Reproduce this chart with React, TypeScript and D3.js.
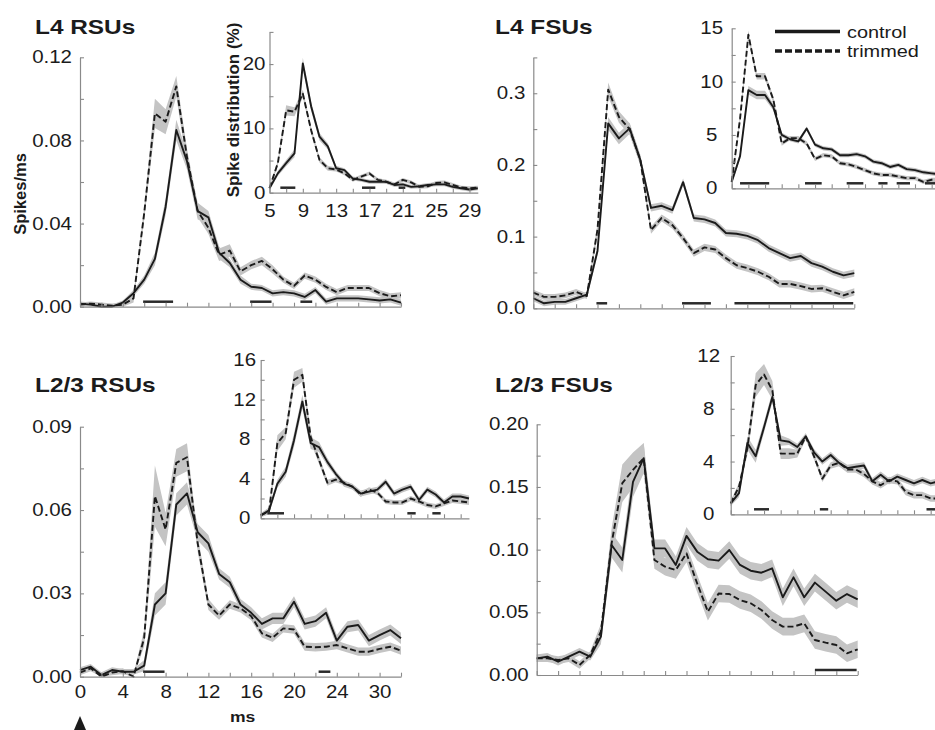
import React, { useEffect, useRef } from 'react'
import * as d3 from 'd3'

// time bins (ms after whisker deflection)
const mainMs = [0, 1, 2, 3, 4, 5, 6, 7, 8, 9, 10, 11, 12, 13, 14, 15, 16, 17, 18, 19, 20, 21, 22, 23, 24, 25, 26, 27, 28, 29, 30]
const insetMs = [5, 6, 7, 8, 9, 10, 11, 12, 13, 14, 15, 16, 17, 18, 19, 20, 21, 22, 23, 24, 25, 26, 27, 28, 29, 30]

const mainXTicks = [0, 2, 4, 6, 8, 10, 12, 14, 16, 18, 20, 22, 24, 26, 28, 30]
const mainXLabelAt = [0, 4, 8, 12, 16, 20, 24, 28]
const mainXLabels = ['0', '4', '8', '12', '16', '20', '24', '30']
const insetXTicks = [5, 7, 9, 11, 13, 15, 17, 19, 21, 23, 25, 27, 29]
const insetXLabels = [5, 9, 13, 17, 21, 25, 29]

// L4 RSUs, spikes/ms
const l4rsCtrl = [0.0015, 0.001, 0.0, 0.0, 0.002, 0.0065, 0.013, 0.023, 0.048, 0.085, 0.07, 0.046, 0.043, 0.026, 0.021, 0.013, 0.0096, 0.009, 0.0064, 0.007, 0.0064, 0.0047, 0.008, 0.0024, 0.004, 0.004, 0.004, 0.0035, 0.003, 0.0035, 0.002]
const l4rsCtrlSem = [0.001, 0.001, 0.001, 0.001, 0.001, 0.0015, 0.002, 0.003, 0.004, 0.005, 0.004, 0.004, 0.003, 0.003, 0.002, 0.002, 0.0015, 0.0015, 0.0015, 0.0015, 0.0015, 0.0015, 0.0015, 0.0015, 0.0015, 0.0015, 0.0015, 0.0015, 0.0015, 0.0015, 0.0015]
const l4rsTrim = [0.001, 0.0015, 0.001, 0.0005, 0.001, 0.004, 0.045, 0.093, 0.089, 0.106, 0.072, 0.046, 0.038, 0.025, 0.027, 0.017, 0.02, 0.022, 0.018, 0.013, 0.01, 0.015, 0.013, 0.0095, 0.007, 0.009, 0.009, 0.009, 0.0065, 0.005, 0.0055]
const l4rsTrimSem = [0.001, 0.001, 0.001, 0.001, 0.001, 0.002, 0.003, 0.007, 0.006, 0.005, 0.004, 0.003, 0.003, 0.003, 0.003, 0.002, 0.002, 0.002, 0.002, 0.0015, 0.0015, 0.0015, 0.0015, 0.0015, 0.0015, 0.0015, 0.0015, 0.0015, 0.0015, 0.0015, 0.0015]
const l4rsBars = [[5.9, 8.7], [15.9, 17.9], [20.6, 21.7]]
// L4 RSUs, spike distribution (%)
const l4rsInCtrl = [0.7, 3.0, 4.6, 6.1, 20.1, 13.4, 8.7, 7.2, 3.8, 3.5, 2.2, 2.0, 1.7, 1.7, 1.7, 1.2, 1.3, 0.9, 1.0, 1.2, 1.3, 1.3, 0.9, 0.7, 0.5, 0.7]
const l4rsInCtrlSem = [0.3, 0.4, 0.5, 0.6, 0.9, 0.7, 0.6, 0.5, 0.4, 0.3, 0.3, 0.3, 0.3, 0.3, 0.3, 0.3, 0.3, 0.3, 0.3, 0.3, 0.3, 0.3, 0.3, 0.3, 0.3, 0.3]
const l4rsInTrim = [0.7, 4.6, 12.8, 12.6, 15.4, 9.7, 5.1, 3.8, 3.6, 3.0, 2.0, 2.5, 3.0, 2.0, 1.7, 1.3, 2.0, 1.6, 0.9, 1.0, 1.5, 1.6, 1.2, 0.8, 0.7, 0.8]
const l4rsInTrimSem = [0.3, 0.4, 0.8, 0.7, 0.6, 0.5, 0.4, 0.4, 0.3, 0.3, 0.3, 0.3, 0.3, 0.3, 0.3, 0.3, 0.3, 0.3, 0.3, 0.3, 0.3, 0.3, 0.3, 0.3, 0.3, 0.3]
const l4rsInBars = [[6.3, 8.1], [16.1, 17.7], [20.5, 21.3]]

// L4 FSUs
const l4fsCtrl = [0.014, 0.007, 0.009, 0.009, 0.014, 0.019, 0.08, 0.258, 0.237, 0.251, 0.207, 0.14, 0.143, 0.137, 0.176, 0.126, 0.124, 0.119, 0.105, 0.104, 0.101, 0.095, 0.084, 0.077, 0.07, 0.073, 0.063, 0.058, 0.051, 0.046, 0.049]
const l4fsCtrlSem = [0.004, 0.004, 0.004, 0.004, 0.004, 0.004, 0.006, 0.009, 0.008, 0.008, 0.007, 0.005, 0.005, 0.005, 0.005, 0.005, 0.005, 0.005, 0.005, 0.005, 0.005, 0.005, 0.005, 0.005, 0.005, 0.005, 0.005, 0.005, 0.005, 0.005, 0.005]
const l4fsTrim = [0.022, 0.016, 0.016, 0.018, 0.023, 0.017, 0.11, 0.305, 0.267, 0.25, 0.207, 0.109, 0.126, 0.116, 0.098, 0.077, 0.085, 0.082, 0.07, 0.06, 0.056, 0.051, 0.044, 0.034, 0.034, 0.031, 0.027, 0.028, 0.023, 0.018, 0.023]
const l4fsTrimSem = [0.004, 0.004, 0.004, 0.004, 0.004, 0.004, 0.008, 0.01, 0.008, 0.008, 0.007, 0.005, 0.005, 0.005, 0.005, 0.005, 0.005, 0.005, 0.005, 0.005, 0.005, 0.005, 0.005, 0.005, 0.005, 0.005, 0.005, 0.005, 0.005, 0.005, 0.005]
const l4fsBars = [[5.9, 6.9], [13.9, 16.6], [18.8, 29.9]]
const l4fsInCtrl = [0.6, 3.0, 9.2, 8.75, 8.75, 7.6, 5.0, 4.6, 4.4, 5.6, 4.1, 3.75, 3.65, 3.1, 3.1, 3.2, 3.0, 2.5, 2.35, 2.0, 2.2, 1.8, 1.7, 1.5, 1.4, 1.3]
const l4fsInCtrlSem = [0.2, 0.3, 0.4, 0.4, 0.4, 0.3, 0.2, 0.2, 0.2, 0.2, 0.2, 0.2, 0.2, 0.2, 0.2, 0.2, 0.2, 0.2, 0.2, 0.2, 0.2, 0.2, 0.2, 0.2, 0.2, 0.2]
const l4fsInTrim = [0.6, 6.5, 14.4, 10.5, 10.5, 8.3, 4.2, 4.7, 4.7, 4.2, 2.75, 3.1, 3.0, 2.35, 2.25, 2.0, 1.7, 1.4, 1.25, 1.25, 1.1, 0.95, 0.95, 0.6, 0.8, 0.8]
const l4fsInTrimSem = [0.2, 0.3, 0.4, 0.3, 0.3, 0.3, 0.2, 0.2, 0.2, 0.2, 0.2, 0.2, 0.2, 0.2, 0.2, 0.2, 0.2, 0.2, 0.2, 0.2, 0.2, 0.2, 0.2, 0.2, 0.2, 0.2]
const l4fsInBars = [[6.0, 9.5], [13.8, 15.8], [18.8, 20.8], [22.6, 23.7], [24.8, 26.4], [28.2, 29.6]]

// L2/3 RSUs
const l23rsCtrl = [0.0024, 0.0036, 0.0006, 0.0024, 0.0018, 0.0018, 0.004, 0.026, 0.03, 0.062, 0.066, 0.052, 0.048, 0.037, 0.034, 0.026, 0.023, 0.019, 0.021, 0.021, 0.027, 0.019, 0.02, 0.023, 0.013, 0.018, 0.0186, 0.013, 0.015, 0.0168, 0.0138]
const l23rsCtrlSem = [0.001, 0.001, 0.001, 0.001, 0.001, 0.001, 0.002, 0.004, 0.004, 0.004, 0.004, 0.003, 0.003, 0.002, 0.002, 0.002, 0.002, 0.002, 0.002, 0.002, 0.002, 0.002, 0.002, 0.002, 0.002, 0.002, 0.002, 0.002, 0.002, 0.002, 0.002]
const l23rsTrim = [0.0015, 0.003, 0.0, 0.0015, 0.002, 0.0, 0.014, 0.065, 0.053, 0.077, 0.079, 0.048, 0.026, 0.022, 0.026, 0.0246, 0.0218, 0.0156, 0.014, 0.0174, 0.017, 0.0108, 0.0106, 0.0108, 0.0114, 0.0102, 0.009, 0.009, 0.01, 0.0108, 0.0094]
const l23rsTrimSem = [0.001, 0.001, 0.001, 0.001, 0.001, 0.001, 0.003, 0.011, 0.006, 0.005, 0.005, 0.003, 0.002, 0.0015, 0.0015, 0.0015, 0.0015, 0.0015, 0.0015, 0.0015, 0.0015, 0.0015, 0.0015, 0.0015, 0.0015, 0.0015, 0.0015, 0.0015, 0.0015, 0.0015, 0.0015]
const l23rsBars = [[5.9, 7.9], [22.3, 23.4]]
const l23rsInCtrl = [0.3, 0.8, 3.5, 4.7, 7.9, 11.8, 7.6, 7.2, 5.7, 4.5, 3.5, 3.2, 2.5, 2.7, 2.9, 3.7, 2.5, 2.9, 3.2, 1.85, 2.9, 2.4, 1.6, 2.2, 2.2, 2.0]
const l23rsInCtrlSem = [0.2, 0.3, 0.4, 0.5, 0.7, 0.7, 0.6, 0.5, 0.4, 0.3, 0.3, 0.3, 0.3, 0.3, 0.3, 0.3, 0.3, 0.3, 0.3, 0.3, 0.3, 0.3, 0.3, 0.3, 0.3, 0.3]
const l23rsInTrim = [0.3, 0.7, 7.6, 8.6, 14.0, 14.5, 8.2, 5.9, 3.6, 3.9, 3.6, 3.2, 2.4, 2.9, 2.6, 1.7, 1.6, 1.6, 2.0, 1.7, 1.35, 1.2, 1.5, 1.8, 1.7, 1.6]
const l23rsInTrimSem = [0.2, 0.3, 0.8, 0.6, 0.8, 0.7, 0.5, 0.4, 0.3, 0.25, 0.25, 0.25, 0.25, 0.25, 0.25, 0.25, 0.25, 0.25, 0.25, 0.25, 0.25, 0.25, 0.25, 0.25, 0.25, 0.25]
const l23rsInBars = [[5.8, 7.8], [22.6, 23.6], [25.6, 26.6]]

// L2/3 FSUs
const l23fsCtrl = [0.0133, 0.0146, 0.0106, 0.0146, 0.0186, 0.0146, 0.0306, 0.1037, 0.0918, 0.154, 0.173, 0.101, 0.101, 0.0878, 0.111, 0.0984, 0.0923, 0.0912, 0.0997, 0.0878, 0.0832, 0.0816, 0.0851, 0.062, 0.0779, 0.062, 0.0737, 0.0665, 0.0593, 0.0646, 0.0604]
const l23fsCtrlSem = [0.003, 0.003, 0.003, 0.003, 0.003, 0.003, 0.006, 0.01, 0.01, 0.012, 0.012, 0.007, 0.007, 0.007, 0.007, 0.007, 0.007, 0.007, 0.007, 0.007, 0.007, 0.007, 0.007, 0.007, 0.007, 0.007, 0.007, 0.007, 0.007, 0.007, 0.007]
const l23fsTrim = [0.0133, 0.0133, 0.012, 0.0133, 0.008, 0.016, 0.0346, 0.105, 0.153, 0.1636, 0.173, 0.0918, 0.0864, 0.0838, 0.097, 0.073, 0.0505, 0.065, 0.0646, 0.0598, 0.0572, 0.0519, 0.0439, 0.0386, 0.0386, 0.0412, 0.0279, 0.0258, 0.0239, 0.0173, 0.0205]
const l23fsTrimSem = [0.003, 0.003, 0.003, 0.003, 0.003, 0.003, 0.006, 0.012, 0.015, 0.014, 0.012, 0.007, 0.007, 0.007, 0.007, 0.007, 0.007, 0.007, 0.007, 0.007, 0.007, 0.007, 0.007, 0.007, 0.007, 0.007, 0.007, 0.007, 0.007, 0.007, 0.007]
const l23fsBars = [[26.0, 29.9]]
const l23fsInCtrl = [0.83, 1.6, 5.4, 4.4, 6.6, 8.9, 5.6, 5.5, 5.1, 5.9, 4.7, 4.0, 4.5, 3.9, 3.5, 3.6, 3.7, 2.5, 3.0, 2.5, 2.85, 2.6, 2.35, 2.6, 2.35, 2.5]
const l23fsInCtrlSem = [0.2, 0.3, 0.5, 0.5, 0.4, 0.4, 0.4, 0.25, 0.25, 0.25, 0.25, 0.25, 0.25, 0.25, 0.25, 0.25, 0.25, 0.25, 0.25, 0.25, 0.25, 0.25, 0.25, 0.25, 0.25, 0.25]
const l23fsInTrim = [0.83, 2.1, 5.0, 9.8, 10.6, 9.4, 4.6, 4.6, 4.6, 5.9, 4.4, 2.7, 3.7, 3.9, 3.4, 3.4, 3.05, 2.5, 2.2, 2.6, 2.5, 1.7, 1.45, 1.45, 1.2, 1.2]
const l23fsInTrimSem = [0.2, 0.3, 0.5, 0.9, 0.8, 0.7, 0.4, 0.4, 0.3, 0.25, 0.25, 0.25, 0.25, 0.25, 0.25, 0.25, 0.25, 0.25, 0.25, 0.25, 0.25, 0.25, 0.25, 0.25, 0.25, 0.25]
const l23fsInBars = [[7.8, 9.6], [15.7, 16.7], [28.5, 29.6]]

const FONT = "'Liberation Sans', Arial, Helvetica, sans-serif"
const INK = '#1b1b1b'
const AXIS = '#8a8a8a'
const BAND = '#c4c4c4'
const SX = 1.17 // the figure is slightly stretched horizontally

const panels = [
  {
    title: 'L4 RSUs', titleX: 35, titleY: 34,
    main: { left: 80, bottom: 306.7, top: 57.3, yMax: 0.12, yMajor: [0, 0.04, 0.08, 0.12], yStep: 0.02, fmt: '.2f', ctrl: l4rsCtrl, ctrlSem: l4rsCtrlSem, trim: l4rsTrim, trimSem: l4rsTrimSem, bars: l4rsBars },
    inset: { left: 269.5, bottom: 192.7, top: 31.9, yMax: 25, yMajor: [0, 10, 20], yStep: 5, anchor: 'end', labelX: -4, xLabels: true, ctrl: l4rsInCtrl, ctrlSem: l4rsInCtrlSem, trim: l4rsInTrim, trimSem: l4rsInTrimSem, bars: l4rsInBars },
  },
  {
    title: 'L4 FSUs', titleX: 495, titleY: 34,
    main: { left: 533.3, bottom: 308.3, top: 57.4, yMax: 0.35, yMajor: [0, 0.1, 0.2, 0.3], yStep: 0.05, fmt: '.1f', ctrl: l4fsCtrl, ctrlSem: l4fsCtrlSem, trim: l4fsTrim, trimSem: l4fsTrimSem, bars: l4fsBars },
    inset: { left: 731.7, bottom: 188.3, top: 28.3, yMax: 15, yMajor: [0, 5, 10, 15], yStep: 2.5, anchor: 'middle', labelX: -20, ctrl: l4fsInCtrl, ctrlSem: l4fsInCtrlSem, trim: l4fsInTrim, trimSem: l4fsInTrimSem, bars: l4fsInBars },
  },
  {
    title: 'L2/3 RSUs', titleX: 35, titleY: 392,
    main: { left: 80, bottom: 676.7, top: 426.7, yMax: 0.09, yMajor: [0, 0.03, 0.06, 0.09], yStep: 0.015, fmt: '.2f', xLabels: true, ctrl: l23rsCtrl, ctrlSem: l23rsCtrlSem, trim: l23rsTrim, trimSem: l23rsTrimSem, bars: l23rsBars },
    inset: { left: 260.7, bottom: 518.3, top: 360, yMax: 16, yMajor: [0, 4, 8, 12, 16], yStep: 2, anchor: 'middle', labelX: -16, ctrl: l23rsInCtrl, ctrlSem: l23rsInCtrlSem, trim: l23rsInTrim, trimSem: l23rsInTrimSem, bars: l23rsInBars },
  },
  {
    title: 'L2/3 FSUs', titleX: 495, titleY: 392,
    main: { left: 536.7, bottom: 675, top: 424.3, yMax: 0.2, yMajor: [0, 0.05, 0.1, 0.15, 0.2], yStep: 0.025, fmt: '.2f', ctrl: l23fsCtrl, ctrlSem: l23fsCtrlSem, trim: l23fsTrim, trimSem: l23fsTrimSem, bars: l23fsBars },
    inset: { left: 730.7, bottom: 514.3, top: 356, yMax: 12, yMajor: [0, 4, 8, 12], yStep: 2, anchor: 'middle', labelX: -22, ctrl: l23fsInCtrl, ctrlSem: l23fsInCtrlSem, trim: l23fsInTrim, trimSem: l23fsInTrimSem, bars: l23fsInBars },
  },
]

const drawPlot = (svg, c, isInset) => {
  const ms = isInset ? insetMs : mainMs
  const x = d3
    .scaleLinear()
    .domain(isInset ? [5, 30] : [0, 30])
    .range([c.left, c.left + (isInset ? 208.3 : 321)])
  const y = d3.scaleLinear().domain([0, c.yMax]).range([c.bottom, c.top])
  const g = svg.append('g')

  const series = [
    { v: c.ctrl, e: c.ctrlSem, dash: null },
    { v: c.trim, e: c.trimSem, dash: '6,3' },
  ]

  // SEM bands
  series.forEach((s) => {
    const area = d3
      .area()
      .x((d, i) => x(ms[i]))
      .y0((d, i) => y(Math.max(0, d - s.e[i])))
      .y1((d, i) => y(Math.min(c.yMax, d + s.e[i])))
    g.append('path').attr('d', area(s.v)).attr('fill', BAND)
  })

  // significance bars
  c.bars.forEach(([a, b]) => {
    g.append('line')
      .attr('x1', x(a))
      .attr('x2', x(b))
      .attr('y1', c.bottom - 5)
      .attr('y2', c.bottom - 5)
      .attr('stroke', '#2a2a2a')
      .attr('stroke-width', 2.5)
  })

  // mean lines
  series.forEach((s) => {
    const line = d3
      .line()
      .x((d, i) => x(ms[i]))
      .y((d) => y(d))
    g.append('path')
      .attr('d', line(s.v))
      .attr('fill', 'none')
      .attr('stroke', INK)
      .attr('stroke-width', 1.9)
      .attr('stroke-linejoin', 'round')
      .attr('stroke-dasharray', s.dash)
  })

  // y axis
  const yTicks = d3.range(0, c.yMax + 1e-9, c.yStep)
  const isMajor = (t) => c.yMajor.some((m) => Math.abs(m - t) < 1e-9)
  const yAxis = g
    .append('g')
    .attr('transform', `translate(${c.left},0)`)
    .call(
      d3
        .axisLeft(y)
        .tickValues(yTicks)
        .tickSize(-4)
        .tickSizeOuter(0)
        .tickPadding(8)
        .tickFormat((t) => (isMajor(t) ? (isInset ? d3.format('d')(t) : d3.format(c.fmt)(t)) : ''))
    )
  // x axis
  const xTicks = isInset ? insetXTicks : mainXTicks
  const xAxis = g
    .append('g')
    .attr('transform', `translate(0,${c.bottom})`)
    .call(
      d3
        .axisBottom(x)
        .tickValues(xTicks)
        .tickSize(-4)
        .tickSizeOuter(0)
        .tickPadding(isInset ? 11.5 : 9)
        .tickFormat((t) => {
          if (!c.xLabels) return ''
          if (isInset) return insetXLabels.includes(t) ? String(t) : ''
          const k = mainXLabelAt.indexOf(t)
          return k >= 0 ? mainXLabels[k] : ''
        })
    )
  ;[yAxis, xAxis].forEach((ax) => {
    ax.attr('font-family', FONT).attr('font-size', 17.5).attr('color', AXIS)
    ax.selectAll('line').attr('stroke-width', 1.1)
    ax.select('.domain').attr('stroke-width', 1.2)
    ax.selectAll('text').attr('fill', INK).attr('transform', `scale(${SX},1)`)
  })
  if (isInset) {
    yAxis.selectAll('text').attr('text-anchor', c.anchor).attr('x', c.labelX / SX)
  } else {
    yAxis.selectAll('text').attr('x', -8 / SX)
  }
}

const stretchedText = (svg, x, y, txt, size, weight, anchor = 'start') =>
  svg
    .append('text')
    .attr('transform', `translate(${x},${y}) scale(${SX},1)`)
    .attr('text-anchor', anchor)
    .attr('font-family', FONT)
    .attr('font-size', size)
    .attr('font-weight', weight)
    .attr('fill', INK)
    .text(txt)

const App = () => {
  const svgRef = useRef(null)

  useEffect(() => {
    const svg = d3.select(svgRef.current)
    svg.selectAll('*').remove()

    panels.forEach((p) => {
      drawPlot(svg, p.main, false)
      drawPlot(svg, p.inset, true)
      svg
        .append('text')
        .attr('transform', `translate(${p.titleX},${p.titleY}) scale(1.22,1)`)
        .attr('font-family', FONT)
        .attr('font-size', 20)
        .attr('font-weight', 'bold')
        .attr('fill', INK)
        .text(p.title)
    })

    // axis titles
    svg
      .append('text')
      .attr('transform', 'translate(26,194) rotate(-90)')
      .attr('text-anchor', 'middle')
      .attr('font-family', FONT)
      .attr('font-size', 16.5)
      .attr('font-weight', 'bold')
      .attr('fill', INK)
      .text('Spikes/ms')
    svg
      .append('text')
      .attr('transform', 'translate(239,110) rotate(-90)')
      .attr('text-anchor', 'middle')
      .attr('font-family', FONT)
      .attr('font-size', 17)
      .attr('font-weight', 'bold')
      .attr('fill', INK)
      .text('Spike distribution (%)')
    stretchedText(svg, 230, 722, 'ms', 15, 'bold')

    // stimulus onset marker
    svg.append('path').attr('d', 'M80,716 L74,730 L86,730 Z').attr('fill', INK)

    // legend
    const legend = [
      { name: 'control', dash: null, y: 31.5 },
      { name: 'trimmed', dash: '7,3', y: 51 },
    ]
    legend.forEach((l) => {
      svg
        .append('line')
        .attr('x1', 775)
        .attr('x2', 840)
        .attr('y1', l.y)
        .attr('y2', l.y)
        .attr('stroke', INK)
        .attr('stroke-width', 3.5)
        .attr('stroke-dasharray', l.dash)
      stretchedText(svg, 847, l.y + 6, l.name, 17, 'normal')
    })
  }, [])

  return (
    <svg
      ref={svgRef}
      width={935}
      height={730}
      style={{ position: 'absolute', left: 0, top: 0, background: '#fff' }}
    />
  )
}

export default App
